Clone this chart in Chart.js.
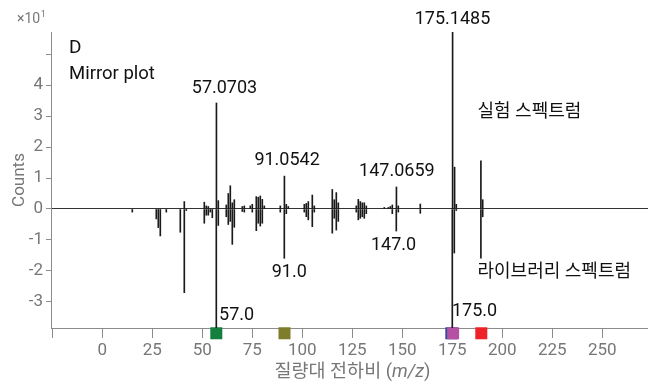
<!DOCTYPE html>
<html>
<head>
<meta charset="utf-8">
<script src="https://cdn.jsdelivr.net/npm/chart.js@4.4.1/dist/chart.umd.min.js"></script>
<style>
  html, body { margin: 0; padding: 0; background: #fff; }
  canvas { display: block; }
</style>
</head>
<body>
<canvas id="mirror" width="648" height="383"></canvas>
<script>
// experimental spectrum (upper half), counts in units of x10^1
const mzExp = [41, 51, 52, 53, 57.0703, 58, 62, 63, 64, 65, 66, 70, 71, 74, 75, 77, 78, 79, 80, 81,
  89, 91.0542, 92, 93, 101, 102, 103, 105, 106, 115, 116, 117, 118, 127, 128, 129, 130, 131, 132,
  141, 143, 144, 145, 147.0659, 148, 159, 175.1485, 176.15, 177, 189.3, 190.2];
const countsExp = [0.24, 0.22, 0.1, 0.08, 3.42, 0.27, 0.13, 0.5, 0.75, 0.2, 0.3, 0.08, 0.1, 0.1, 0.15, 0.4, 0.38, 0.42, 0.31, 0.1,
  0.1, 1.06, 0.15, 0.08, 0.15, 0.18, 0.24, 0.45, 0.1, 0.63, 0.3, 0.53, 0.2, 0.1, 0.31, 0.24, 0.2, 0.2, 0.1,
  0.05, 0.05, 0.08, 0.13, 0.71, 0.1, 0.16, 5.8, 1.35, 0.15, 1.55, 0.3];

// library spectrum (lower half, mirrored)
const mzLib = [15, 27, 28, 29, 32, 39, 41, 42, 51, 52, 53, 54, 55, 57.0, 58, 62, 63, 64, 65, 66,
  70, 71, 75, 77, 78, 79, 80, 89, 91.0, 92, 101, 102, 103, 105, 106, 115, 116, 117, 118,
  127, 128, 129, 130, 131, 132, 145, 147.0, 148, 159, 175.0, 176, 177, 189.3, 190.2];
const countsLib = [-0.1, -0.32, -0.6, -0.87, -0.1, -0.75, -2.7, -0.05, -0.46, -0.2, -0.2, -0.1, -0.28, -4.2, -0.53, -0.25, -0.5, -0.4, -1.14, -0.59,
  -0.08, -0.1, -0.1, -0.7, -0.46, -0.55, -0.46, -0.1, -1.59, -0.15, -0.1, -0.25, -0.35, -0.57, -0.1, -0.78, -0.3, -0.68, -0.4,
  -0.1, -0.35, -0.3, -0.25, -0.3, -0.15, -0.15, -0.71, -0.1, -0.14, -4.2, -1.42, -0.05, -1.59, -0.25];

// coloured markers on the m/z axis
const markerMz = [57.0, 91.1, 174.5, 175.4, 189.5];
const markerColors = ['#13803f', '#7f7d2c', '#2f4f9e', '#b451a3', '#ec2227'];

const xTickStep = 25;
const yTickStep = 1;

const FAMILY = "Roboto, 'Noto Sans CJK KR', sans-serif";
const GREY = '#777';
const AXIS = '#8c8c8c';
const INK = '#1a1a1a';
const Y_MIN = -3.839, Y_MAX = 5.71;

// peak annotations, placed in data units
const notes = [
  { text: '57.0703', mz: 61.1, at: 3.9, align: 'center', size: 18 },
  { text: '175.1485', mz: 175.1, at: 6.1, align: 'center', size: 18 },
  { text: '91.0542', mz: 92.4, at: 1.58, align: 'center', size: 18 },
  { text: '147.0659', mz: 147.3, at: 1.2, align: 'center', size: 18 },
  { text: '91.0', mz: 93.5, at: -2.05, align: 'center', size: 18 },
  { text: '147.0', mz: 145.6, at: -1.18, align: 'center', size: 18 },
  { text: '57.0', mz: 58.4, at: -3.43, align: 'left', size: 18 },
  { text: '175.0', mz: 174.8, at: -3.3, align: 'left', size: 18 },
  { text: '실험 스펙트럼', mz: 187.6, at: 3.12, align: 'left', size: 18 },
  { text: '라이브러리 스펙트럼', mz: 187.6, at: -2.05, align: 'left', size: 18 }
];

const mirrorText = {
  id: 'mirrorText',
  afterDraw(chart) {
    const { ctx, chartArea: area, scales: { x, y } } = chart;
    ctx.save();
    ctx.textBaseline = 'alphabetic';
    ctx.textAlign = 'left';

    // axis multiplier
    ctx.fillStyle = GREY;
    ctx.font = '14px ' + FAMILY;
    ctx.fillText('×10', 17, 23);
    const w = ctx.measureText('×10').width;
    ctx.font = '9px ' + FAMILY;
    ctx.fillText('1', 17 + w + 0.5, 17);

    // panel tag
    ctx.fillStyle = '#111';
    ctx.font = '19px ' + FAMILY;
    ctx.fillText('D', area.left + 18, 53);
    ctx.font = '18.5px ' + FAMILY;
    ctx.fillText('Mirror plot', area.left + 18, 79);

    // peak labels
    ctx.textBaseline = 'middle';
    notes.forEach(n => {
      ctx.font = n.size + 'px ' + FAMILY;
      ctx.textAlign = n.align;
      ctx.fillText(n.text, x.getPixelForValue(n.mz), y.getPixelForValue(n.at));
    });

    // x axis title with italic m/z
    const parts = [['질량대 전하비 (', ''], ['m/z', 'italic '], [')', '']];
    ctx.fillStyle = GREY;
    let total = 0;
    parts.forEach(p => { ctx.font = p[1] + '18.5px ' + FAMILY; total += ctx.measureText(p[0]).width; });
    let px = (area.left + area.right) / 2 + 3 - total / 2;
    ctx.textAlign = 'left';
    parts.forEach(p => {
      ctx.font = p[1] + '18.5px ' + FAMILY;
      ctx.fillText(p[0], px, 372);
      px += ctx.measureText(p[0]).width;
    });
    ctx.restore();
  }
};

const ctx = document.getElementById('mirror').getContext('2d');
new Chart(ctx, {
  data: {
    datasets: [
      {
        type: 'scatter',
        data: markerMz.map(v => ({ x: v, y: Y_MIN - 0.17 })),
        pointStyle: 'rect',
        pointRadius: 8.5,
        pointHoverRadius: 8.5,
        pointBorderWidth: 0,
        backgroundColor: markerColors,
        clip: false,
        order: 3
      },
      {
        type: 'bar',
        label: '실험 스펙트럼',
        data: mzExp.map((v, i) => ({ x: v, y: countsExp[i] })),
        backgroundColor: INK,
        barThickness: 1,
        grouped: false,
        order: 1
      },
      {
        type: 'bar',
        label: '라이브러리 스펙트럼',
        data: mzLib.map((v, i) => ({ x: v, y: countsLib[i] })),
        backgroundColor: INK,
        barThickness: 1,
        grouped: false,
        order: 2
      }
    ]
  },
  options: {
    responsive: false,
    animation: false,
    devicePixelRatio: 1,
    layout: { autoPadding: false, padding: { top: 32, right: 0, left: 0, bottom: 0 } },
    plugins: {
      legend: { display: false },
      tooltip: { enabled: false }
    },
    scales: {
      x: {
        type: 'linear',
        offset: false,
        min: -25.65,
        max: 272.85,
        border: { color: AXIS },
        grid: { offset: false, drawOnChartArea: false, color: AXIS, tickLength: 10 },
        ticks: {
          stepSize: xTickStep,
          includeBounds: false,
          autoSkip: false,
          maxRotation: 0,
          color: GREY,
          padding: 3,
          font: { family: FAMILY, size: 17 },
          callback: v => (v < 0 ? '' : v)
        },
        afterFit: s => { s.height = 55; s.paddingLeft = 0; s.paddingRight = 0; }
      },
      y: {
        type: 'linear',
        min: Y_MIN,
        max: Y_MAX,
        border: { color: AXIS },
        grid: {
          color: c => (c.tick && c.tick.value === 0 ? '#333' : 'rgba(0,0,0,0)'),
          tickColor: AXIS,
          tickLength: 5
        },
        ticks: {
          stepSize: yTickStep,
          includeBounds: false,
          color: GREY,
          padding: 3,
          font: { family: FAMILY, size: 17 },
          callback: v => (v === 5 ? '' : v)
        },
        title: {
          display: true,
          text: 'Counts',
          color: GREY,
          font: { family: FAMILY, size: 17 },
          padding: { top: 10, bottom: 0 }
        },
        afterFit: s => { s.width = 51; s.paddingTop = 0; s.paddingBottom = 0; }
      }
    }
  },
  plugins: [mirrorText]
});
</script>
</body>
</html>
